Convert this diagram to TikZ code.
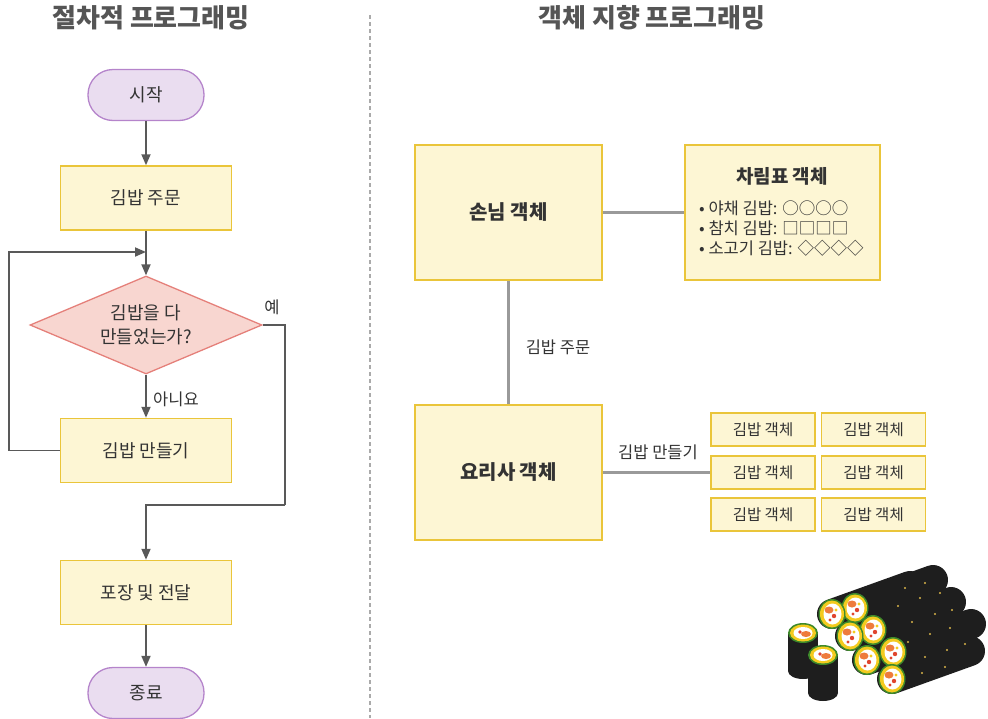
\documentclass[tikz,border=0pt]{standalone}
\usepackage{fontspec}
\setmainfont{Noto Sans CJK KR}
\usetikzlibrary{shapes.geometric,arrows.meta}

\definecolor{ink}{HTML}{333333}
\definecolor{titleink}{HTML}{555555}
\definecolor{flowline}{HTML}{595959}
\definecolor{linkline}{HTML}{9A9A9A}
\definecolor{boxfill}{HTML}{FDF6D4}
\definecolor{boxline}{HTML}{EAC53A}
\definecolor{termfill}{HTML}{EADDF0}
\definecolor{termline}{HTML}{B584CB}
\definecolor{decfill}{HTML}{F8D6D0}
\definecolor{decline}{HTML}{E5807A}
\definecolor{sepline}{HTML}{AAAAAA}
\definecolor{nori}{HTML}{1E1E1E}
\definecolor{spinach}{HTML}{3E8A2A}
\definecolor{egg}{HTML}{F3CB1F}
\definecolor{carrot}{HTML}{EE7B3C}
\definecolor{crab}{HTML}{E0452E}
\definecolor{sesame}{HTML}{D9B44A}

\begin{document}
\begin{tikzpicture}[x=1pt,y=-1pt,
  every node/.style={text=ink},
  titletext/.style={font=\fontsize{26}{30}\selectfont\bfseries, text=titleink},
  labeltext/.style={font=\fontsize{16.5}{19}\selectfont},
  terminal/.style={draw=termline, fill=termfill, line width=1.3pt,
    rounded corners=25pt, minimum width=116pt, minimum height=51pt,
    font=\fontsize{18}{21}\selectfont},
  procbox/.style={draw=boxline, fill=boxfill, line width=1.5pt,
    minimum width=171pt, minimum height=64pt, font=\fontsize{18}{21}\selectfont},
  decision/.style={diamond, aspect=2.37, draw=decline, fill=decfill, line width=1.3pt,
    inner sep=0pt, minimum width=232pt, minimum height=98pt, align=center,
    font=\fontsize{18}{24}\selectfont},
  objbox/.style={draw=boxline, fill=boxfill, line width=1.5pt,
    minimum width=187pt, minimum height=135pt, font=\fontsize{20}{23}\selectfont\bfseries},
  kimbox/.style={draw=boxline, fill=boxfill, line width=1.5pt,
    minimum width=104pt, minimum height=33pt, font=\fontsize{15.5}{18}\selectfont},
  flow/.style={draw=flowline, line width=1.8pt, -{Triangle[length=11pt,width=9pt]}},
  flowplain/.style={draw=flowline, line width=1.8pt},
  link/.style={draw=linkline, line width=2.5pt},
]
\useasboundingbox (0,0) rectangle (988,718);

% ---- headings and divider ----
\node[titletext] (ttlproc) at (151,18) {절차적 프로그래밍};
\node[titletext] (ttloop) at (652,18) {객체 지향 프로그래밍};
\draw[sepline, line width=1.2pt, dash pattern=on 4pt off 3pt] (370,15) -- (370,718);

% ---- procedural flowchart ----
\node[terminal] (start) at (146,95) {시작};
\node[procbox] (order) at (146,198) {김밥 주문};
\node[decision] (check) at (146,325) {김밥을 다\\만들었는가?};
\node[procbox] (make) at (146,450.5) {김밥 만들기};
\node[procbox] (pack) at (146,592.5) {포장 및 전달};
\node[terminal] (finish) at (146,693) {종료};

\coordinate (loopin) at (146,252);
\coordinate (loopx) at (9,252);
\coordinate (yesturn) at (285,505);

\draw[flow] (start) -- (order);
\draw[flow] (order) -- (check);
\draw[flow] (check) -- node[labeltext, right, xshift=3pt, yshift=-3pt] (nolbl) {아니요} (make);
\draw[flow] (make.west) -| (loopx) -- (loopin);
\draw[flowplain] (check.east) -| (yesturn);
\draw[flow] (yesturn) -| (pack.north);
\draw[flow] (pack) -- (finish);
\node[labeltext] (yeslbl) at (272,307) {예};

% ---- object-oriented side ----
\node[objbox] (guest) at (508.5,212.5) {손님 객체};
\node[objbox, minimum width=195pt] (menu) at (782.5,212.5) {};
\node[font=\fontsize{19}{22}\selectfont\bfseries] (menutitle) at (782,176) {차림표 객체};
\node[font=\fontsize{16.5}{20}\selectfont, anchor=north west, align=left, inner sep=0pt]
  (menulist) at (699,201) {• 야채 김밥: ○○○○\\• 참치 김밥: □□□□\\• 소고기 김밥: ◇◇◇◇};
\node[objbox] (cook) at (508.5,472.5) {요리사 객체};

\node[kimbox] (k11) at (763,429.5) {김밥 객체};
\node[kimbox] (k12) at (873.5,429.5) {김밥 객체};
\node[kimbox] (k21) at (763,472.5) {김밥 객체};
\node[kimbox] (k22) at (873.5,472.5) {김밥 객체};
\node[kimbox] (k31) at (763,514.5) {김밥 객체};
\node[kimbox] (k32) at (873.5,514.5) {김밥 객체};

\draw[link] (guest.east) -- (menu.west);
\draw[link] (guest.south) -- (cook.north);
\draw[link] (cook.east) -- (k21.west);
\node[labeltext] (orderlbl) at (558,347) {김밥 주문};
\node[labeltext] (makelbl) at (658,452) {김밥 만들기};

% ---- gimbap illustration ----
% small cut pieces, standing upright
\foreach \px/\py in {803/633, 823/655} {
  \fill[nori] (\px-15,\py) rectangle (\px+15,\py+38);
  \fill[nori] (\px,\py+38) ellipse [x radius=15, y radius=8];
  \fill[spinach] (\px,\py) ellipse [x radius=15, y radius=10];
  \fill[egg] (\px,\py) ellipse [x radius=13, y radius=8.5];
  \fill[white] (\px,\py) ellipse [x radius=9.5, y radius=6];
  \fill[carrot] (\px+3,\py+1) ellipse [x radius=5, y radius=3];
  \fill[crab] (\px-3,\py-1) circle (1.8);
}
% long rolls: bodies first, back to front
\foreach \fx/\fy in {855/608, 832/614, 873/630, 850/636, 893/652, 867/660, 892/679} {
  \draw[nori, line width=30pt, line cap=round] (\fx,\fy) -- (\fx+78,\fy-28);
}
\foreach \sx/\sy in {905/588, 925/583, 898/606, 920/598, 940/593, 912/622, 935/614,
  952/610, 908/642, 930/634, 950/628, 925/657, 947/650, 965/644, 922/673, 945/667} {
  \fill[sesame] (\sx,\sy) circle (1.1);
}
% cut faces of the long rolls
\foreach \fx/\fy in {855/608, 832/614, 873/630, 850/636, 893/652, 867/660, 892/679} {
  \fill[spinach] (\fx,\fy) ellipse [x radius=13.5, y radius=15];
  \fill[egg] (\fx,\fy) ellipse [x radius=12, y radius=13.5];
  \fill[white] (\fx+0.5,\fy) ellipse [x radius=9, y radius=10.5];
  \fill[carrot] (\fx-3,\fy-4) ellipse [x radius=4.5, y radius=3.5];
  \fill[crab] (\fx+2,\fy+2) circle (2.2);
  \fill[crab] (\fx-2,\fy+6) circle (1.6);
  \fill[egg] (\fx+4,\fy-4) circle (1.7);
}
\end{tikzpicture}
\end{document}
